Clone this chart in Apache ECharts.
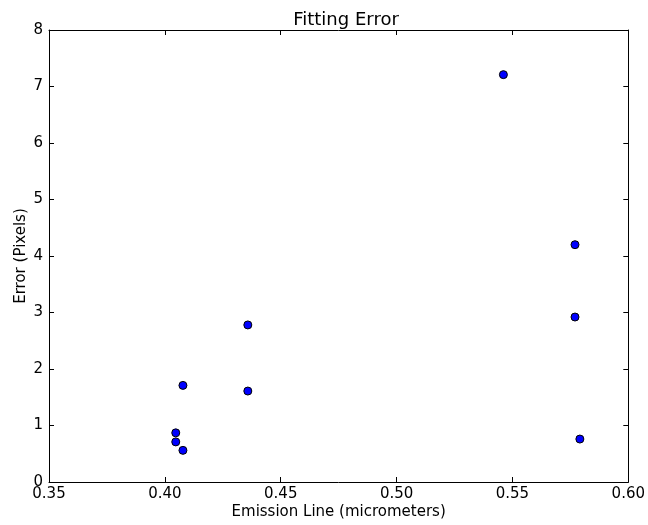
<!DOCTYPE html>
<html>
<head>
<meta charset="utf-8">
<script src="https://cdn.jsdelivr.net/npm/echarts@6/dist/echarts.min.js"></script>
<style>
html,body{margin:0;padding:0;background:#fff;}
#chart{width:648px;height:525px;}
</style>
</head>
<body>
<div id="chart"></div>
<script>
const wavelengths = [0.4047, 0.4047, 0.4078, 0.4078, 0.4358, 0.4358, 0.5461, 0.5770, 0.5770, 0.5791];
const errors = [0.87, 0.71, 1.71, 0.56, 2.78, 1.61, 7.21, 4.20, 2.92, 0.76];
const xTicks = [0.35, 0.40, 0.45, 0.50, 0.55, 0.60];
const yTicks = [0, 1, 2, 3, 4, 5, 6, 7, 8];

const points = wavelengths.map((w, i) => [w, errors[i]]);
const font = 'DejaVu Sans';
const chart = echarts.init(document.getElementById('chart'), null, {renderer: 'canvas'});
const axisLine = {show: true, onZero: false, lineStyle: {color: '#000', width: 1}};
const tick = {show: true, inside: true, length: 5, lineStyle: {color: '#000'}};
chart.setOption({
  animation: false,
  backgroundColor: '#fff',
  title: {
    text: 'Fitting Error', left: 341, top: 6, textAlign: 'center',
    textStyle: {fontFamily: font, fontSize: 18, fontWeight: 'normal', color: '#000'}
  },
  grid: {left: 49, right: 15, top: 30, bottom: 38, containLabel: false},
  xAxis: [{
    type: 'value', min: xTicks[0], max: xTicks[xTicks.length - 1], interval: 0.05,
    position: 'bottom',
    axisLine: axisLine, axisTick: tick, splitLine: {show: false},
    axisLabel: {fontFamily: font, fontSize: 15, color: '#000', margin: 5,
      formatter: v => v.toFixed(2)},
    name: 'Emission Line (micrometers)', nameLocation: 'middle', nameGap: 23,
    nameMoveOverlap: false,
    nameTextStyle: {fontFamily: font, fontSize: 15, color: '#000', verticalAlign: 'top'}
  }, {
    type: 'value', min: xTicks[0], max: xTicks[xTicks.length - 1], interval: 0.05,
    position: 'top',
    axisLine: axisLine, axisTick: tick, splitLine: {show: false},
    axisLabel: {show: false}
  }],
  yAxis: [{
    type: 'value', min: yTicks[0], max: yTicks[yTicks.length - 1], interval: 1,
    position: 'left',
    axisLine: axisLine, axisTick: tick, splitLine: {show: false},
    axisLabel: {fontFamily: font, fontSize: 15, color: '#000', margin: 6},
    name: 'Error (Pixels)', nameLocation: 'middle', nameGap: 20, nameRotate: 90,
    nameMoveOverlap: false,
    nameTextStyle: {fontFamily: font, fontSize: 15, color: '#000'}
  }, {
    type: 'value', min: yTicks[0], max: yTicks[yTicks.length - 1], interval: 1,
    position: 'right',
    axisLine: axisLine, axisTick: tick, splitLine: {show: false},
    axisLabel: {show: false}
  }],
  series: [{
    type: 'scatter',
    data: points,
    symbol: 'circle',
    symbolSize: 8,
    itemStyle: {color: '#0000ff', borderColor: '#000', borderWidth: 1, opacity: 1}
  }]
});
</script>
</body>
</html>
